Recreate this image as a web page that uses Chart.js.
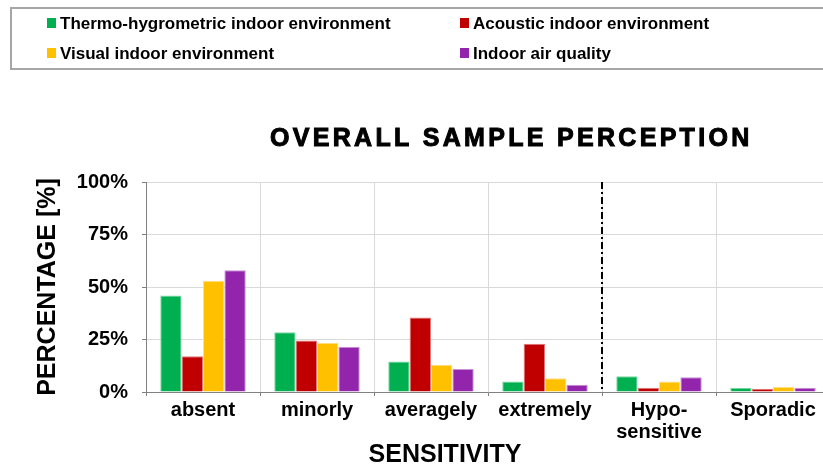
<!DOCTYPE html>
<html>
<head>
<meta charset="utf-8">
<script src="https://cdn.jsdelivr.net/npm/chart.js@4/dist/chart.umd.min.js"></script>
<style>
  html, body { margin: 0; padding: 0; background: #fff; overflow: hidden; width: 823px; height: 468px; }
  #wrap { position: absolute; left: 0; top: 0; width: 840px; height: 468px; }
</style>
</head>
<body>
<div id="wrap"><canvas id="c" width="840" height="468"></canvas></div>
<script>
// Sensitivity classes (x categories)
const categories = ['absent', 'minorly', 'averagely', 'extremely', ['Hypo-', 'sensitive'], 'Sporadic'];

// Series names
const seriesNames = [
  'Thermo-hygrometric indoor environment',
  'Acoustic indoor environment',
  'Visual indoor environment',
  'Indoor air quality'
];

// Share of respondents [%] per sensitivity class
const thermoHygrometric = [46, 28.5, 14.5, 5, 7.5, 2];
const acoustic          = [17, 24.5, 35.5, 23, 2, 1.5];
const visual            = [53, 23.5, 13, 6.5, 5, 2.5];
const indoorAirQuality  = [58, 21.5, 11, 3.5, 7, 2];

// Y axis ticks [%]
const yTicks = [0, 25, 50, 75, 100];

const chartTitle = 'OVERALL SAMPLE PERCEPTION';
const xAxisTitle = 'SENSITIVITY';
const yAxisTitle = 'PERCENTAGE [%]';

const FONT = "'Liberation Sans', Arial, sans-serif";
const fills   = ['#00B050', '#C00000', '#FFC000', '#9325AD'];
const borders = ['#7fd6a4', '#e07a7a', '#ffe08a', '#c990d6'];

const seriesValues = [thermoHygrometric, acoustic, visual, indoorAirQuality];

const datasets = seriesNames.map((name, i) => ({
  label: name,
  data: seriesValues[i],
  backgroundColor: fills[i],
  borderColor: borders[i],
  borderWidth: 1,
  categoryPercentage: 0.75,
  barPercentage: 1.0
}));

// Title, legend box, x axis title and the dash-dot divider
const decorations = {
  id: 'decorations',
  afterDraw(chart) {
    const { ctx, chartArea, scales: { x } } = chart;

    // dash-dot divider between the intensity classes and the last two groups
    const xd = (x.getPixelForValue(3) + x.getPixelForValue(4)) / 2;
    ctx.save();
    ctx.strokeStyle = '#000';
    ctx.lineWidth = 2;
    ctx.setLineDash([7, 3, 2, 3]);
    ctx.beginPath();
    ctx.moveTo(xd, chartArea.top);
    ctx.lineTo(xd, chartArea.bottom);
    ctx.stroke();
    ctx.restore();

    // chart title (heavy, letter-spaced)
    ctx.save();
    ctx.fillStyle = '#000';
    ctx.strokeStyle = '#000';
    ctx.lineWidth = 1;
    ctx.font = 'bold 25px ' + FONT;
    ctx.letterSpacing = '3.3px';
    ctx.textAlign = 'left';
    ctx.textBaseline = 'middle';
    ctx.fillText(chartTitle, 270, 139);
    ctx.strokeText(chartTitle, 270, 139);
    ctx.restore();

    // x axis title
    ctx.save();
    ctx.fillStyle = '#000';
    ctx.font = 'bold 25px ' + FONT;
    ctx.textAlign = 'center';
    ctx.textBaseline = 'middle';
    ctx.fillText(xAxisTitle, x.getPixelForValue(2) + 14, 455);
    ctx.restore();

    // legend box
    ctx.save();
    ctx.strokeStyle = '#a6a6a6';
    ctx.lineWidth = 2;
    ctx.strokeRect(11, 8, 828, 61);
    ctx.font = 'bold 17px ' + FONT;
    ctx.textBaseline = 'middle';
    ctx.textAlign = 'left';
    const colX = [47, 460];
    const rowY = [23, 53];
    chart.data.datasets.forEach((ds, i) => {
      const cx = colX[i % 2];
      const cy = rowY[Math.floor(i / 2)];
      ctx.fillStyle = ds.backgroundColor;
      ctx.fillRect(cx, cy - 5, 9, 10);
      ctx.fillStyle = '#000';
      ctx.fillText(ds.label, cx + 13, cy + 1);
    });
    ctx.restore();
  }
};

new Chart(document.getElementById('c'), {
  type: 'bar',
  data: { labels: categories, datasets },
  plugins: [decorations],
  options: {
    responsive: false,
    animation: false,
    devicePixelRatio: 1,
    layout: { padding: { top: 182, right: 10, bottom: 0, left: 0 } },
    plugins: {
      legend: { display: false },
      title: { display: false },
      tooltip: { enabled: false }
    },
    scales: {
      x: {
        grid: { color: '#d9d9d9', offset: true, tickLength: 4, tickColor: '#808080' },
        border: { color: '#808080', width: 1 },
        ticks: {
          color: '#000',
          font: { family: FONT, size: 20, weight: 'bold', lineHeight: 1.1 },
          padding: 3,
          maxRotation: 0,
          autoSkip: false
        },
        afterFit(scale) { scale.height = 76; }
      },
      y: {
        min: 0,
        max: 100,
        afterBuildTicks(scale) { scale.ticks = yTicks.map(v => ({ value: v })); },
        grid: { color: '#d9d9d9', tickLength: 4, tickColor: '#808080' },
        border: { color: '#808080', width: 1 },
        ticks: {
          color: '#000',
          font: { family: FONT, size: 20, weight: 'bold' },
          padding: 14,
          callback: v => v + '%'
        },
        title: {
          display: true,
          text: yAxisTitle,
          color: '#000',
          font: { family: FONT, size: 25, weight: 'bold' },
          padding: { top: 33, bottom: 0 }
        },
        afterFit(scale) { scale.width = 146; }
      }
    }
  }
});
</script>
</body>
</html>
